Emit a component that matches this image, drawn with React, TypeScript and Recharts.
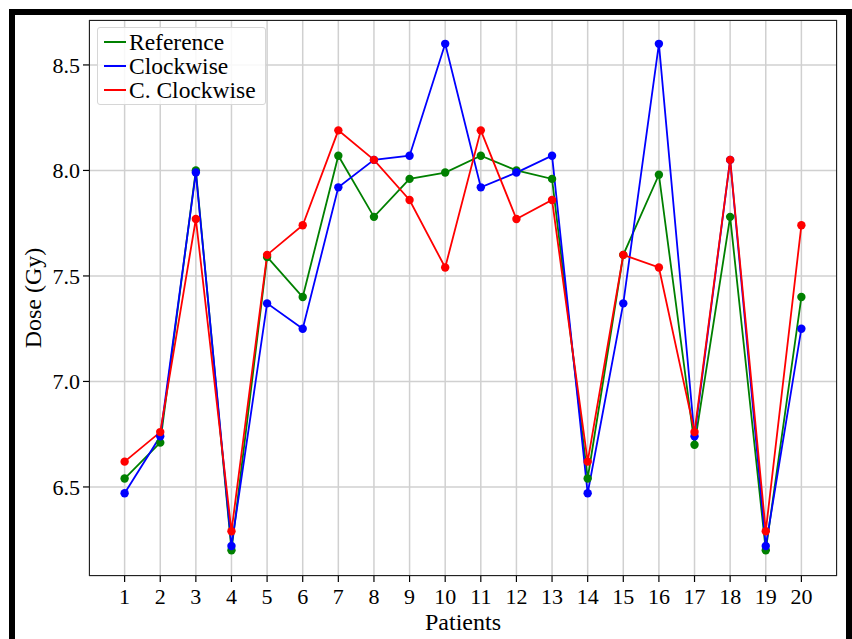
import React from "react";
import { LineChart, Line, XAxis, YAxis, CartesianGrid } from "recharts";

const patients = [1, 2, 3, 4, 5, 6, 7, 8, 9, 10, 11, 12, 13, 14, 15, 16, 17, 18, 19, 20];
const reference = [6.54, 6.71, 8.0, 6.2, 7.59, 7.4, 8.07, 7.78, 7.96, 7.99, 8.07, 8.0, 7.96, 6.54, 7.6, 7.98, 6.7, 7.78, 6.2, 7.4];
const clockwise = [6.47, 6.74, 7.99, 6.22, 7.37, 7.25, 7.92, 8.05, 8.07, 8.6, 7.92, 7.99, 8.07, 6.47, 7.37, 8.6, 6.74, 8.05, 6.22, 7.25];
const cClockwise = [6.62, 6.76, 7.77, 6.29, 7.6, 7.74, 8.19, 8.05, 7.86, 7.54, 8.19, 7.77, 7.86, 6.62, 7.6, 7.54, 6.76, 8.05, 6.29, 7.74];
const yTicks = [6.5, 7.0, 7.5, 8.0, 8.5];

const series = [
  { key: "reference", name: "Reference", color: "#008000" },
  { key: "clockwise", name: "Clockwise", color: "#0000ff" },
  { key: "cClockwise", name: "C. Clockwise", color: "#ff0000" },
];

const data = patients.map((p, i) => ({
  patient: p,
  reference: reference[i],
  clockwise: clockwise[i],
  cClockwise: cClockwise[i],
}));

const font = "'Liberation Serif', 'Times New Roman', serif";

export default function App() {
  return (
    <div style={{ position: "absolute", left: 0, top: 0, width: 852, height: 639, overflow: "hidden", background: "#fff" }}>
      {/* outer black frame, bottom edge is cut off in the original */}
      <div
        style={{
          position: "absolute",
          left: 9,
          top: 9,
          width: 843,
          height: 700,
          boxSizing: "border-box",
          border: "6px solid #000",
        }}
      />
      <LineChart
        width={852}
        height={639}
        data={data}
        margin={{ top: 20, right: 15, left: 29, bottom: 23 }}
        style={{ position: "absolute", left: 0, top: 0, fontFamily: font }}
      >
        <CartesianGrid stroke="#d0d0d0" strokeWidth={1.5} />
        <XAxis
          dataKey="patient"
          type="number"
          domain={[0, 21]}
          ticks={patients}
          interval={0}
          height={40}
          axisLine={false}
          tickLine={{ stroke: "#000", strokeWidth: 1.2 }}
          tickSize={6}
          tickMargin={6}
          tick={{ fill: "#000", fontSize: 22, fontFamily: font }}
          label={{ value: "Patients", position: "insideBottom", offset: -14, fill: "#000", fontSize: 24, fontFamily: font }}
        />
        <YAxis
          type="number"
          domain={[6.078, 8.713]}
          ticks={yTicks}
          allowDataOverflow
          width={60}
          axisLine={false}
          tickLine={{ stroke: "#000", strokeWidth: 1.2 }}
          tickSize={6}
          tickMargin={3}
          tickFormatter={(v: number) => v.toFixed(1)}
          tick={{ fill: "#000", fontSize: 22, fontFamily: font }}
          label={{
            value: "Dose (Gy)",
            angle: -90,
            position: "insideLeft",
            offset: 3,
            fill: "#000",
            fontSize: 24,
            fontFamily: font,
            style: { textAnchor: "middle" },
          }}
        />
        {series.map((s) => (
          <Line
            key={s.key}
            type="linear"
            dataKey={s.key}
            name={s.name}
            stroke={s.color}
            strokeWidth={1.8}
            dot={{ r: 4.2, fill: s.color, stroke: s.color, strokeWidth: 0 }}
            isAnimationActive={false}
          />
        ))}
      </LineChart>
      {/* axes box */}
      <div
        style={{
          position: "absolute",
          left: 89,
          top: 20,
          width: 748,
          height: 556,
          boxSizing: "border-box",
          border: "1.5px solid #222",
          pointerEvents: "none",
        }}
      />
      <div
        style={{
          position: "absolute",
          left: 97,
          top: 27,
          width: 169,
          height: 78,
          boxSizing: "border-box",
          border: "1px solid #d6d6d6",
          borderRadius: 3,
          background: "rgba(255,255,255,0.85)",
          fontFamily: font,
          fontSize: 23.5,
          color: "#000",
          paddingTop: 2,
        }}
      >
        {series.map((s) => (
          <div key={s.key} style={{ display: "flex", alignItems: "center", height: 24, lineHeight: "22px" }}>
            <div style={{ width: 22, height: 2, background: s.color, marginLeft: 6, marginRight: 3 }} />
            <span>{s.name}</span>
          </div>
        ))}
      </div>
    </div>
  );
}
